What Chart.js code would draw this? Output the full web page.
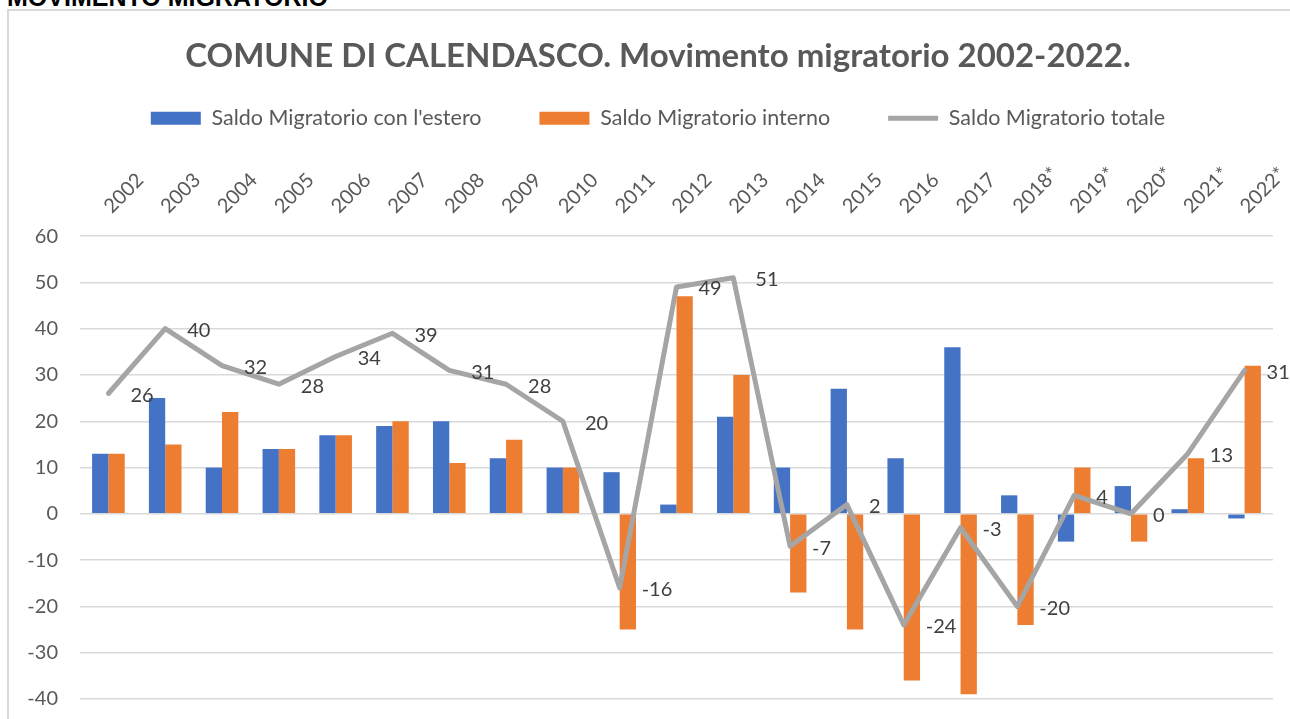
<!DOCTYPE html>
<html>
<head>
<meta charset="utf-8">
<script src="https://cdn.jsdelivr.net/npm/chart.js@4"></script>
<style>
  html, body { margin: 0; padding: 0; background: #fff; overflow: hidden; width: 1290px; height: 719px; }
  #intestazione {
    position: absolute; left: 7px; top: -17px;
    font: bold 25px "Liberation Sans", Arial, sans-serif; color: #000; white-space: nowrap;
  }
  #cornice {
    position: absolute; left: 7px; top: 9px;
    width: 1300px; height: 760px;
    border: 2px solid #D9D9D9; background: #fff;
  }
</style>
</head>
<body>
<div id="intestazione">MOVIMENTO MIGRATORIO</div>
<div id="cornice"><canvas id="migratorioChart" width="1300" height="760"></canvas></div>

<script>
    // anni (asse X in alto)
    const anni = ['2002', '2003', '2004', '2005', '2006', '2007', '2008', '2009', '2010', '2011',
        '2012', '2013', '2014', '2015', '2016', '2017', '2018*', '2019*', '2020*', '2021*', '2022*'];

    // saldi
    const saldoEstero = [13, 25, 10, 14, 17, 19, 20, 12, 10, 9, 2, 21, 10, 27, 12, 36, 4, -6, 6, 1, -1];
    const saldoInterno = [13, 15, 22, 14, 17, 20, 11, 16, 10, -25, 47, 30, -17, -25, -36, -39, -24, 10, -6, 12, 32];
    const saldoTotale = [26, 40, 32, 28, 34, 39, 31, 28, 20, -16, 49, 51, -7, 2, -24, -3, -20, 4, 0, 13, 31];

    const grigioTesto = '#595959';
    const fontBase = 'Lato, "Open Sans", sans-serif';

    // etichette dei valori a destra dei punti della linea
    const etichetteLinea = {
        id: 'etichetteLinea',
        afterDatasetsDraw(chart) {
            const meta = chart.getDatasetMeta(2);
            const ctx = chart.ctx;
            ctx.save();
            ctx.font = '20px ' + fontBase;
            ctx.fillStyle = '#404040';
            ctx.textAlign = 'left';
            ctx.textBaseline = 'middle';
            meta.data.forEach((punto, i) => {
                ctx.fillText(String(saldoTotale[i]), punto.x + 22, punto.y + 2);
            });
            ctx.restore();
        }
    };

    const ctx = document.getElementById('migratorioChart').getContext('2d');
    const myChart = new Chart(ctx, {
        type: 'bar',
        data: {
            labels: anni,
            datasets: [
                {
                    label: "Saldo Migratorio con l'estero",
                    data: saldoEstero,
                    backgroundColor: '#4472C4',
                    pointStyle: 'rect',
                    categoryPercentage: 0.574,
                    barPercentage: 1,
                    order: 2
                },
                {
                    label: 'Saldo Migratorio interno',
                    data: saldoInterno,
                    backgroundColor: '#ED7D31',
                    pointStyle: 'rect',
                    categoryPercentage: 0.574,
                    barPercentage: 1,
                    order: 2
                },
                {
                    type: 'line',
                    label: 'Saldo Migratorio totale',
                    data: saldoTotale,
                    borderColor: '#A5A5A5',
                    backgroundColor: '#A5A5A5',
                    borderWidth: 5,
                    borderCapStyle: 'round',
                    borderJoinStyle: 'round',
                    pointRadius: 0,
                    pointStyle: 'line',
                    tension: 0,
                    order: 0
                }
            ]
        },
        options: {
            responsive: false,
            animation: false,
            layout: { padding: { top: 20, right: 2, bottom: 72, left: 0 } },
            plugins: {
                title: {
                    display: true,
                    text: 'COMUNE DI CALENDASCO. Movimento migratorio 2002-2022.',
                    color: grigioTesto,
                    font: { family: fontBase, size: 33, weight: 'bold' },
                    padding: { top: 6, bottom: -27 }
                },
                legend: {
                    display: true,
                    position: 'top',
                    labels: {
                        usePointStyle: true,
                        pointStyleWidth: 50,
                        boxHeight: 13,
                        color: grigioTesto,
                        font: { family: fontBase, size: 21.5 },
                        padding: 58,
                        sort: (a, b) => a.datasetIndex - b.datasetIndex
                    }
                },
                tooltip: { enabled: false }
            },
            scales: {
                x: {
                    position: 'top',
                    grid: { display: false, drawTicks: false },
                    border: { display: false },
                    ticks: {
                        color: grigioTesto,
                        font: { family: fontBase, size: 20 },
                        maxRotation: 45,
                        minRotation: 45,
                        padding: 18,
                        labelOffset: 16
                    },
                    afterFit(scale) { scale.height = 97; }
                },
                y: {
                    min: -40,
                    max: 60,
                    grid: { color: '#D9D9D9', lineWidth: 1.5, drawTicks: false },
                    border: { display: false },
                    ticks: {
                        stepSize: 10,
                        color: grigioTesto,
                        font: { family: fontBase, size: 20 },
                        padding: 22
                    },
                    afterFit(scale) { scale.width = 71; }
                },
                // asse vuoto a destra: lascia spazio alle etichette senza spostare titolo e legenda
                margineDestro: {
                    position: 'right',
                    display: true,
                    min: -40,
                    max: 60,
                    grid: { display: false },
                    border: { display: false },
                    ticks: { display: false },
                    afterFit(scale) { scale.width = 34; }
                }
            }
        },
        plugins: [etichetteLinea]
    });
</script>
</body>
</html>
